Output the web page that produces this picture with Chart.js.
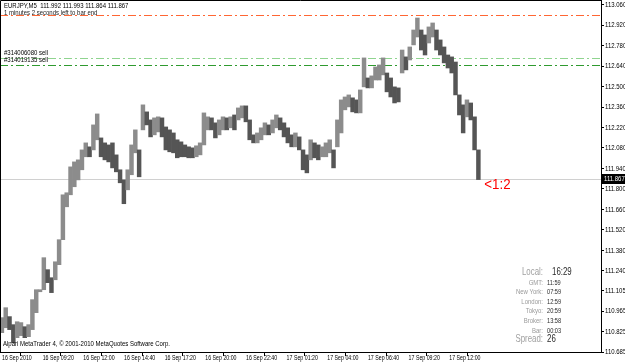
<!DOCTYPE html>
<html><head><meta charset="utf-8">
<script src="https://cdn.jsdelivr.net/npm/chart.js@4.4.0/dist/chart.umd.min.js"></script>
<style>html,body{margin:0;padding:0;background:#fff;}canvas{display:block}</style>
</head><body><canvas id="c" width="625" height="364"></canvas>
<script>
// ---- data ----
const symbolTitle = 'EURJPY,M5  111.992 111.993 111.864 111.867';
const timerText = '1 minutes 2 seconds left to bar end';
const copyrightText = 'Alpari MetaTrader 4, \u00a9 2001-2010 MetaQuotes Software Corp.';
const barIntervalMin = 15; // each bar below summarises 15 minutes of M5 bars, starting 16 Sep 06:40
const lows = [110.817,110.851,110.838,110.749,110.783,110.797,110.783,110.790,110.838,110.954,
111.111,111.111,111.159,111.091,111.179,111.282,111.453,111.678,111.760,111.815,
111.862,111.931,112.020,112.020,112.067,112.136,112.020,111.999,111.985,111.944,
111.917,111.842,111.699,111.794,111.897,112.047,111.883,112.204,112.238,112.156,
112.170,112.190,112.156,112.067,112.054,112.047,112.013,112.020,112.020,112.013,
112.013,112.020,112.033,112.101,112.204,112.204,112.149,112.170,112.204,112.204,
112.218,112.204,112.272,112.286,112.259,112.136,112.115,112.115,112.136,112.170,
112.170,112.183,112.218,112.204,112.156,112.115,112.088,112.088,112.067,111.931,
111.910,111.999,112.013,111.999,112.020,112.020,112.047,111.944,112.088,112.183,
112.341,112.361,112.327,112.320,112.320,112.498,112.491,112.491,112.545,112.545,
112.580,112.464,112.429,112.388,112.395,112.593,112.614,112.682,112.785,112.839,
112.750,112.716,112.798,112.839,112.750,112.716,112.662,112.627,112.593,112.443,
112.306,112.183,112.293,112.272,112.067,111.864];
const highs = [110.920,110.988,110.927,110.872,110.892,110.886,110.858,110.872,111.043,111.111,
111.097,111.330,111.248,111.193,111.302,111.453,111.760,111.774,111.951,111.985,
111.999,112.067,112.115,112.088,112.238,112.313,112.149,112.115,112.101,112.115,
112.033,111.931,111.862,111.931,112.101,112.204,112.067,112.375,112.327,112.272,
112.286,112.293,112.286,112.224,112.204,112.183,112.136,112.122,112.101,112.088,
112.081,112.095,112.115,112.320,112.293,112.286,112.252,112.272,112.293,112.286,
112.293,112.306,112.354,112.368,112.368,112.272,112.170,112.183,112.218,112.252,
112.238,112.272,112.306,112.286,112.252,112.218,112.170,112.183,112.156,112.067,
112.033,112.136,112.115,112.101,112.088,112.115,112.136,112.067,112.272,112.409,
112.429,112.443,112.423,112.409,112.477,112.696,112.559,112.573,112.634,112.648,
112.696,112.593,112.559,112.498,112.491,112.750,112.703,112.771,112.887,112.969,
112.887,112.853,112.908,112.935,112.887,112.819,112.771,112.716,112.703,112.668,
112.443,112.375,112.409,112.388,112.293,112.067];
const xTickMinutes = [0,160,320,480,640,800,960,1120,1280,1440,1600,1760];
const xTickLabels = ['16 Sep 2010','16 Sep 09:20','16 Sep 12:00','16 Sep 14:40','16 Sep 17:20','16 Sep 20:00',
  '16 Sep 22:40','17 Sep 01:20','17 Sep 04:00','17 Sep 06:40','17 Sep 09:20','17 Sep 12:00'];
const yTicks = [113.060,112.920,112.780,112.640,112.500,112.360,112.220,112.080,111.940,111.800,
  111.660,111.520,111.380,111.240,111.105,110.965,110.825,110.685];
const bidPrice = 111.867;
const alertPrice = 112.990;
const orderPrices = [112.696, 112.648];
const orderLabels = ['#314006080 sell', '#314019135 sell'];
const ratioText = '<1:2';
const infoLabels = ['Local:','GMT:','New York:','London:','Tokyo:','Broker:','Bar:','Spread:'];
const infoValues = ['16:29','11:59','07:59','12:59','20:59','13:58','00:03','26'];

// ---- build ----
const barData = lows.map((lo, i) => ({x: i * barIntervalMin + barIntervalMin / 2, y: [lo, highs[i]]}));
const barColors = lows.map((lo, i) => {
  if (i === 0) return '#8c8c8c';
  const m = (lo + highs[i]) / 2, p = (lows[i-1] + highs[i-1]) / 2;
  return m >= p ? '#8c8c8c' : '#555555';
});

const FONT = '"Liberation Sans", Arial, sans-serif';
function txt(ctx, s, x, y, o) {
  ctx.save();
  ctx.font = (o.weight || 'normal') + ' ' + o.size + 'px ' + FONT;
  ctx.fillStyle = o.color || '#000';
  ctx.textBaseline = 'middle';
  ctx.textAlign = o.align || 'left';
  ctx.translate(x, y);
  ctx.scale(o.k || 0.75, 1);
  ctx.fillText(s, 0, 0);
  ctx.restore();
}

const overlay = {
  id: 'overlay',
  beforeDatasetsDraw(chart) {
    const {ctx, chartArea: a, scales: {y}} = chart;
    const line = (p, color, dash) => {
      const py = Math.round(y.getPixelForValue(p)) + 0.5;
      ctx.save();
      ctx.strokeStyle = color; ctx.setLineDash(dash); ctx.lineWidth = 1;
      ctx.beginPath(); ctx.moveTo(a.left, py); ctx.lineTo(a.right, py); ctx.stroke();
      ctx.restore();
    };
    line(bidPrice, '#d0d0d0', []);
    line(alertPrice, '#ff6633', [8, 3, 2, 3]);
    line(orderPrices[0], '#8fd48f', [8, 3, 2, 3]);
    line(orderPrices[1], '#2f9a2f', [8, 3, 2, 3]);
  },
  afterDraw(chart) {
    const {ctx, chartArea: a, scales: {x, y}} = chart;
    ctx.save();
    ctx.strokeStyle = '#000'; ctx.lineWidth = 1;
    ctx.beginPath();
    ctx.moveTo(a.left + 0.5, a.bottom); ctx.lineTo(a.left + 0.5, a.top + 0.5); ctx.lineTo(a.right, a.top + 0.5);
    ctx.stroke();
    ctx.restore();
    yTicks.forEach(v => txt(ctx, v.toFixed(3), a.right + 4, y.getPixelForValue(v), {size: 8}));
    const by = Math.round(y.getPixelForValue(bidPrice));
    ctx.fillStyle = '#000';
    ctx.fillRect(a.right + 1, by - 5, chart.width - a.right - 1, 10);
    txt(ctx, bidPrice.toFixed(3), a.right + 3, by, {size: 8, color: '#fff'});
    xTickMinutes.forEach((m, i) => txt(ctx, xTickLabels[i], x.getPixelForValue(m) + 2, a.bottom + 6, {size: 7}));
    txt(ctx, symbolTitle, 4, 6, {size: 8});
    txt(ctx, timerText, 4, 13, {size: 8, color: '#1a1a1a'});
    orderLabels.forEach((s, i) => txt(ctx, s, 4, y.getPixelForValue(orderPrices[i]) - 5, {size: 8}));
    txt(ctx, copyrightText, 3, a.bottom - 8, {size: 8});
    txt(ctx, ratioText, x.getPixelForValue(lows.length * barIntervalMin) + 4, by + 6, {size: 14, color: '#ff0000', k: 0.95});
    const ys = [272, 283, 292, 302, 311, 321, 331, 339];
    infoLabels.forEach((s, i) => {
      const big = (i === 0 || i === infoLabels.length - 1);
      txt(ctx, s, 543, ys[i], {size: big ? 10.5 : 8, color: big ? '#a0a0a0' : '#9a9a9a', align: 'right'});
      txt(ctx, infoValues[i], i === 0 ? 552 : 547, ys[i], {size: big ? 10.5 : 7.5, color: '#2a2a2a'});
    });
  }
};

new Chart(document.getElementById('c'), {
  type: 'bar',
  data: {datasets: [{data: barData, backgroundColor: barColors, borderWidth: 0,
    barPercentage: 1, categoryPercentage: 1}]},
  options: {
    responsive: false, animation: false, devicePixelRatio: 1, events: [],
    layout: {padding: 0},
    plugins: {legend: {display: false}, tooltip: {enabled: false}},
    scales: {
      x: {type: 'linear', min: 0, max: 2365, offset: false,
        afterBuildTicks: s => { s.ticks = xTickMinutes.map(v => ({value: v})); },
        afterFit: s => { s.height = 12; },
        ticks: {display: false},
        grid: {drawOnChartArea: false, drawTicks: true, tickLength: 4, color: '#000'},
        border: {display: true, color: '#000'}},
      y: {type: 'linear', position: 'right', min: 110.685, max: 113.092,
        afterBuildTicks: s => { s.ticks = yTicks.map(v => ({value: v})); },
        afterFit: s => { s.width = 24; },
        ticks: {display: false},
        grid: {drawOnChartArea: false, drawTicks: true, tickLength: 3, color: '#000'},
        border: {display: true, color: '#000'}}
    }
  },
  plugins: [overlay]
});
</script></body></html>
